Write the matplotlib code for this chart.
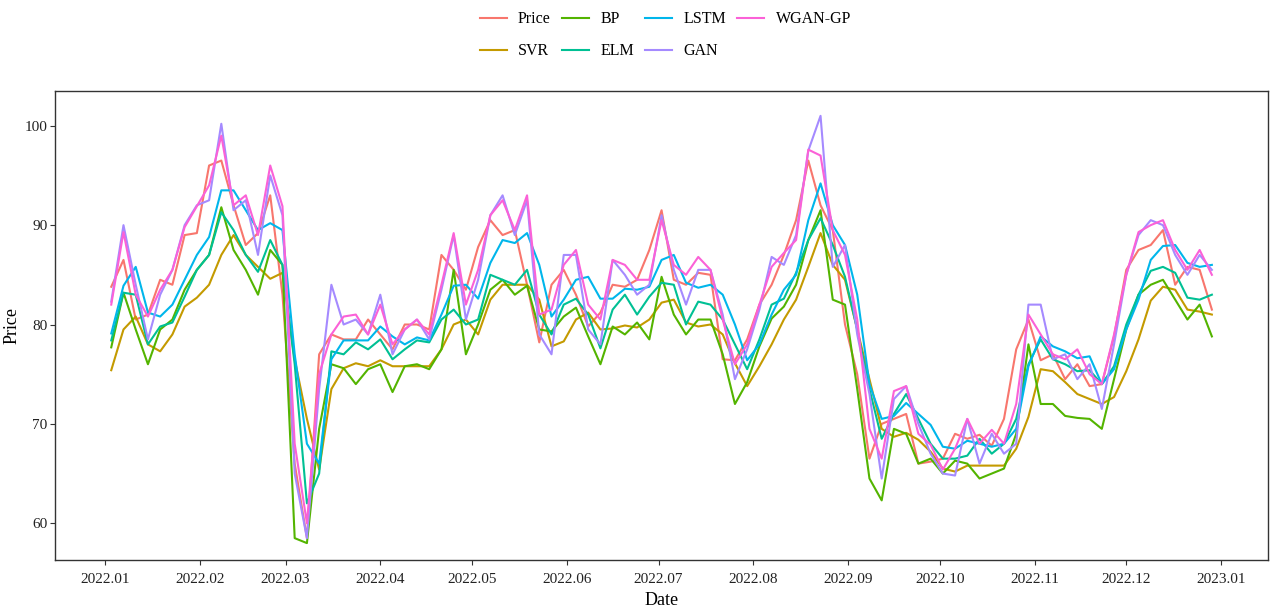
import matplotlib
matplotlib.use("Agg")
import matplotlib.pyplot as plt
import matplotlib.dates as mdates
import pandas as pd

plt.rcParams["font.family"] = ["Liberation Serif", "DejaVu Serif"]

# Observation dates (every 4 days through 2022)
dates = pd.date_range("2022-01-03", periods=91, freq="4D")

price = [83.8, 86.5, 80.5, 81.0, 84.5, 84.0, 89.0, 89.2, 96.0, 96.5,
         92.0, 88.0, 89.2, 93.0, 83.0, 66.0, 58.5, 77.0, 79.0, 78.5,
         78.5, 80.5, 79.0, 77.5, 80.0, 80.0, 79.5, 87.0, 85.5, 83.5,
         87.8, 90.5, 89.0, 89.5, 84.0, 78.2, 84.0, 85.5, 83.0, 79.8,
         81.2, 84.0, 83.8, 84.5, 87.5, 91.5, 84.5, 84.0, 85.2, 85.0,
         76.5, 76.4, 78.5, 82.0, 84.0, 87.0, 90.5, 96.5, 92.0, 89.5,
         80.0, 75.0, 66.5, 70.0, 70.5, 71.0, 66.0, 66.2, 66.5, 69.0,
         68.5, 68.9, 67.8, 70.5, 77.5, 80.5, 76.4, 77.0, 74.5, 76.0,
         73.8, 74.0, 78.8, 85.5, 87.5, 88.0, 89.5, 84.0, 85.8, 85.5,
         81.5]

svr = [75.4, 79.5, 80.8, 78.0, 77.3, 79.0, 81.8, 82.7, 84.0, 87.0,
       89.0, 87.0, 85.8, 84.6, 85.2, 76.5, 70.5, 65.4, 73.5, 75.6,
       76.1, 75.8, 76.4, 75.8, 75.8, 75.8, 75.8, 77.5, 80.0, 80.5,
       79.0, 82.5, 84.0, 84.0, 84.0, 82.5, 77.8, 78.3, 80.5, 81.2,
       79.5, 79.6, 79.9, 79.7, 80.5, 82.2, 82.5, 80.2, 79.8, 80.0,
       79.0, 76.1, 73.8, 75.8, 78.0, 80.5, 82.5, 85.8, 89.2, 86.0,
       84.5, 79.5, 74.5, 69.5, 68.7, 69.1, 68.4, 67.2, 65.5, 65.2,
       65.8, 65.8, 65.8, 65.8, 67.5, 70.7, 75.5, 75.3, 74.2, 73.0,
       72.5, 72.0, 72.7, 75.3, 78.5, 82.4, 83.8, 83.5, 81.5, 81.3,
       81.0]

bp = [77.7, 83.2, 79.5, 76.0, 79.5, 80.5, 83.5, 85.5, 87.0, 91.8,
      87.5, 85.5, 83.0, 87.5, 86.0, 58.5, 58.0, 69.5, 76.0, 75.6,
      74.0, 75.5, 76.0, 73.2, 75.8, 76.0, 75.5, 77.5, 85.5, 77.0,
      80.0, 83.5, 84.5, 83.0, 83.9, 79.5, 79.3, 80.8, 81.7, 78.8,
      76.0, 79.8, 79.0, 80.2, 78.5, 84.8, 81.0, 79.0, 80.5, 80.5,
      77.0, 72.0, 74.2, 77.8, 80.6, 81.8, 84.0, 88.5, 91.5, 82.5,
      82.0, 73.5, 64.5, 62.3, 69.5, 69.0, 66.0, 66.5, 65.0, 66.3,
      66.0, 64.5, 65.0, 65.5, 69.0, 78.0, 72.0, 72.0, 70.8, 70.6,
      70.5, 69.5, 74.5, 79.5, 83.0, 84.0, 84.5, 82.5, 80.5, 82.0,
      78.8]

elm = [78.4, 83.2, 83.0, 78.0, 79.8, 80.2, 82.8, 85.5, 87.0, 91.3,
       89.5, 87.0, 85.3, 88.5, 86.0, 76.0, 62.0, 65.0, 77.3, 77.0,
       78.2, 77.5, 78.5, 76.5, 77.5, 78.4, 78.2, 80.5, 81.5, 80.0,
       80.5, 85.0, 84.5, 84.0, 85.5, 81.0, 79.0, 82.0, 82.6, 81.0,
       77.6, 81.5, 83.0, 81.0, 82.8, 84.2, 84.0, 80.0, 82.3, 82.0,
       80.5, 78.0, 75.5, 78.5, 82.0, 82.6, 85.2, 88.5, 90.7, 88.0,
       84.8, 79.5, 73.5, 68.5, 71.0, 73.0, 70.5, 68.0, 66.5, 66.5,
       66.8, 68.5, 67.0, 68.0, 70.5, 76.0, 78.5, 76.5, 76.0, 75.3,
       75.4, 74.0, 75.8, 80.0, 83.0, 85.4, 85.8, 85.2, 82.7, 82.5,
       83.0]

lstm = [79.1, 83.9, 85.8, 81.2, 80.8, 82.0, 84.5, 87.0, 88.8, 93.5,
        93.5, 91.5, 89.5, 90.2, 89.5, 77.0, 68.0, 66.0, 76.5, 78.4,
        78.4, 78.4, 79.8, 78.8, 78.0, 78.7, 78.4, 81.0, 83.9, 84.0,
        82.6, 86.2, 88.5, 88.2, 89.2, 86.0, 80.8, 82.5, 84.5, 84.8,
        82.6, 82.6, 83.6, 83.5, 83.8, 86.5, 87.0, 84.2, 83.7, 84.0,
        83.0, 80.0, 76.4, 78.0, 81.0, 83.5, 85.0, 90.5, 94.2, 90.0,
        88.0, 83.0, 74.0, 70.5, 70.8, 72.1, 71.0, 69.9, 67.7, 67.5,
        68.3, 68.0, 67.7, 68.0, 69.5, 75.8, 78.8, 77.8, 77.3, 76.6,
        76.8, 74.0, 75.5, 79.5, 82.5, 86.5, 87.9, 88.0, 86.2, 85.8,
        86.0]

gan = [82.3, 90.0, 84.0, 78.5, 83.0, 85.5, 90.0, 92.0, 92.5, 100.2,
       91.5, 92.5, 87.0, 95.0, 91.0, 65.0, 58.5, 73.5, 84.0, 80.0,
       80.5, 79.0, 83.0, 77.0, 79.5, 80.5, 78.5, 83.5, 89.0, 80.5,
       84.5, 91.0, 93.0, 89.0, 92.5, 79.0, 77.0, 87.0, 87.0, 79.5,
       78.0, 86.5, 85.0, 83.0, 84.0, 91.0, 85.5, 82.0, 85.5, 85.5,
       81.0, 74.5, 77.5, 81.5, 86.8, 86.0, 89.0, 97.5, 101.0, 85.8,
       88.0, 79.0, 73.0, 64.5, 72.5, 73.8, 70.0, 67.0, 65.0, 64.8,
       70.5, 66.0, 69.0, 67.0, 68.0, 82.0, 82.0, 76.5, 77.0, 74.5,
       76.0, 71.5, 78.0, 85.0, 89.0, 90.5, 90.0, 87.0, 85.0, 87.0,
       85.5]

wgan_gp = [82.0, 89.3, 83.0, 80.8, 83.5, 85.5, 89.8, 91.9, 94.0, 99.0,
           92.0, 93.0, 89.0, 96.0, 91.9, 68.0, 60.0, 75.0, 79.0, 80.8,
           81.0, 79.0, 82.0, 78.0, 79.5, 80.5, 79.0, 84.0, 89.2, 82.0,
           85.5, 91.0, 92.5, 89.5, 93.0, 81.0, 81.5, 86.0, 87.5, 82.0,
           80.5, 86.5, 86.0, 84.5, 84.5, 90.5, 86.0, 85.0, 86.8, 85.5,
           80.5, 76.0, 78.0, 82.0, 85.8, 87.2, 88.5, 97.6, 97.0, 89.5,
           87.0, 80.5, 69.5, 66.5, 73.3, 73.8, 69.0, 67.9, 65.4, 67.5,
           70.5, 68.0, 69.4, 68.0, 72.0, 81.0, 79.0, 77.0, 76.5, 77.5,
           75.0, 74.0, 79.0, 85.0, 89.3, 90.0, 90.5, 87.5, 85.5, 87.5,
           85.0]

series = [
    ("Price", price, "#F8766D"),
    ("SVR", svr, "#C49A00"),
    ("BP", bp, "#53B400"),
    ("ELM", elm, "#00C094"),
    ("LSTM", lstm, "#00B6EB"),
    ("GAN", gan, "#A58AFF"),
    ("WGAN-GP", wgan_gp, "#FB61D7"),
]

fig = plt.figure(figsize=(12.72, 6.16), dpi=100)
ax = fig.add_axes([0.0432, 0.0909, 0.9536, 0.7614])

for name, values, color in series:
    ax.plot(dates, values, color=color, lw=1.5, label=name)

ax.set_xlim(pd.Timestamp("2021-12-15 14:00"), pd.Timestamp("2023-01-16 08:00"))
ax.set_ylim(56.3, 103.5)
ax.set_yticks([60, 70, 80, 90, 100])
ax.xaxis.set_major_locator(mdates.MonthLocator())
ax.xaxis.set_major_formatter(mdates.DateFormatter("%Y.%m"))

for side in ax.spines.values():
    side.set_color("#333333")
    side.set_linewidth(1.0)
ax.tick_params(axis="both", direction="out", length=3.5, width=0.8,
               color="#333333", labelsize=11, labelcolor="#222222")
ax.tick_params(axis="x", pad=6)
ax.tick_params(axis="y", pad=2)

ax.set_xlabel("Date", fontsize=13, labelpad=4)
ax.set_ylabel("Price", fontsize=13, labelpad=3)

fig.legend(loc="upper center", bbox_to_anchor=(0.523, 1.005), ncol=4,
           frameon=False, fontsize=11.5, handlelength=1.7,
           columnspacing=0.7, handletextpad=0.7, labelspacing=1.0)

fig.savefig("out.png", dpi=100)
